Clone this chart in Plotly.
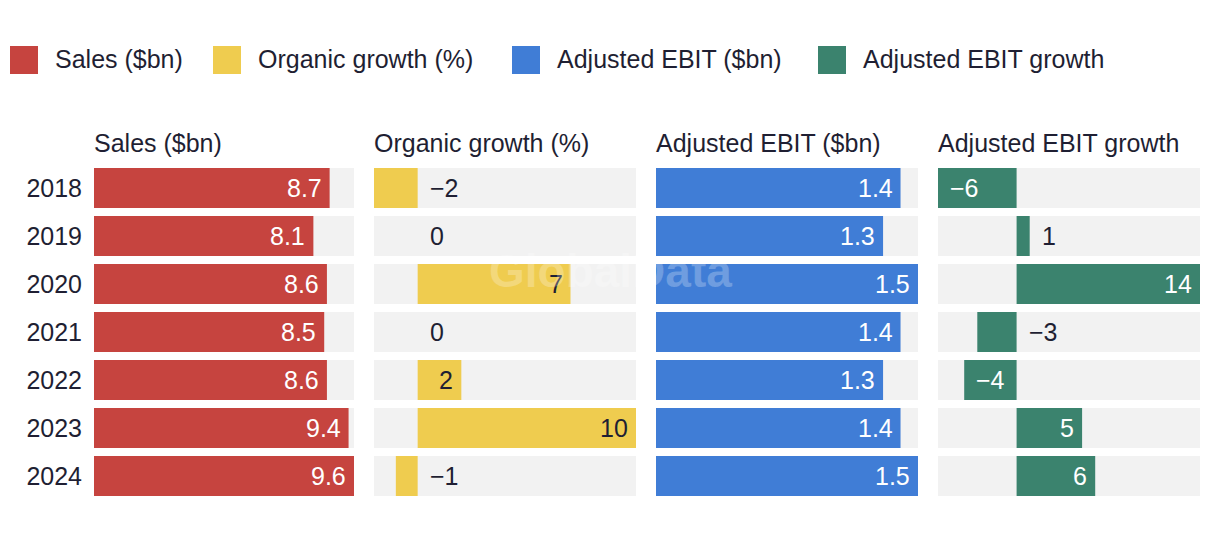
import plotly.graph_objects as go

years = ["2018", "2019", "2020", "2021", "2022", "2023", "2024"]
series_names = ["Sales ($bn)", "Organic growth (%)", "Adjusted EBIT ($bn)", "Adjusted EBIT growth"]
sales = [8.7, 8.1, 8.6, 8.5, 8.6, 9.4, 9.6]
organic_growth = [-2, 0, 7, 0, 2, 10, -1]
adj_ebit = [1.4, 1.3, 1.5, 1.4, 1.3, 1.4, 1.5]
adj_ebit_growth = [-6, 1, 14, -3, -4, 5, 6]
label_formats = [".1f", ".0f", ".1f", ".0f"]

colors = ["#c6443f", "#efcc4f", "#407dd6", "#3b836e"]
inside_text_colors = ["#ffffff", "#1f1f33", "#ffffff", "#ffffff"]
dark = "#1f1f33"
bg = "#f2f2f2"
FONT = "Liberation Sans, Arial, sans-serif"
FS = 25

W, H = 1220, 540
OFF = 8  # page body margin
panels_px = [(94, 354), (374, 636), (656, 918), (938, 1200)]
panels_px = [(a - OFF, b - OFF) for a, b in panels_px]
y_top_px, y_bot_px = 164 - OFF, 500 - OFF

all_series = [sales, organic_growth, adj_ebit, adj_ebit_growth]
fig = go.Figure()
annotations = []
shapes = []
idx = list(range(len(years)))
bar_w = 40 / 48

for i, (name, vals) in enumerate(zip(series_names, all_series)):
    xa = "x" if i == 0 else f"x{i+1}"
    lo, hi = min(0, min(vals)), max(vals)
    fig.add_trace(go.Bar(y=idx, x=[hi - lo] * len(vals), base=[lo] * len(vals), orientation="h",
                         marker=dict(color=bg, line=dict(width=0)), width=bar_w,
                         xaxis=xa, yaxis="y", showlegend=False, hoverinfo="skip"))
    fig.add_trace(go.Bar(y=idx, x=vals, orientation="h", name=name,
                         marker=dict(color=colors[i], line=dict(width=0)), width=bar_w,
                         xaxis=xa, yaxis="y", showlegend=False))
    px_per_unit = (panels_px[i][1] - panels_px[i][0]) / (hi - lo)
    for j, v in enumerate(vals):
        txt = format(abs(v), label_formats[i])
        if v < 0:
            txt = "\u2212" + txt
        need = 13.5 * len(txt) + 20
        bar_px = abs(v) * px_per_unit
        if bar_px >= need and v != 0:
            if v > 0:
                annotations.append(dict(x=v, y=j, xref=xa, yref="y", text=txt, showarrow=False,
                                        xanchor="right", xshift=-6,
                                        font=dict(family=FONT, size=FS, color=inside_text_colors[i])))
            else:
                annotations.append(dict(x=v, y=j, xref=xa, yref="y", text=txt, showarrow=False,
                                        xanchor="left", xshift=10,
                                        font=dict(family=FONT, size=FS, color=inside_text_colors[i])))
        else:
            annotations.append(dict(x=max(0, v), y=j, xref=xa, yref="y", text=txt, showarrow=False,
                                    xanchor="left", xshift=10,
                                    font=dict(family=FONT, size=FS, color=dark)))
    annotations.append(dict(x=(panels_px[i][0] - 2) / W, y=1 - (143 - OFF) / H, xref="paper", yref="paper",
                            text=name, showarrow=False, xanchor="left", yanchor="middle",
                            font=dict(family=FONT, size=FS, color=dark)))

# legend (manual)
legend_sq = [10, 213, 512, 818]
for i, name in enumerate(series_names):
    x0 = legend_sq[i] - OFF
    shapes.append(dict(type="rect", xref="paper", yref="paper",
                       x0=x0 / W, x1=(x0 + 28) / W, y0=1 - (74 - OFF) / H, y1=1 - (46 - OFF) / H,
                       fillcolor=colors[i], line=dict(width=0)))
    annotations.append(dict(x=(x0 + 43) / W, y=1 - (59 - OFF) / H, xref="paper", yref="paper",
                            text=name, showarrow=False, xanchor="left", yanchor="middle",
                            font=dict(family=FONT, size=FS, color=dark)))

# watermark
annotations.append(dict(x=(610 - OFF) / W, y=1 - (271 - OFF) / H, xref="paper", yref="paper",
                        text="<b>GlobalData</b>", showarrow=False, xanchor="center", yanchor="middle",
                        font=dict(family=FONT, size=46, color="rgba(255,255,255,0.25)")))

layout = dict(
    width=W, height=H, margin=dict(l=0, r=0, t=0, b=0),
    paper_bgcolor="white", plot_bgcolor="white",
    barmode="overlay", showlegend=False,
    annotations=annotations, shapes=shapes,
    yaxis=dict(domain=[1 - y_bot_px / H, 1 - y_top_px / H], range=[len(years) - 0.5, -0.5],
               tickvals=idx, ticktext=years, ticks="outside", ticklen=6, tickcolor="rgba(0,0,0,0)",
               showgrid=False, zeroline=False, showline=False,
               tickfont=dict(family=FONT, size=FS, color=dark), anchor="x"),
)
for i, vals in enumerate(all_series):
    key = "xaxis" if i == 0 else f"xaxis{i+1}"
    lo, hi = min(0, min(vals)), max(vals)
    layout[key] = dict(domain=[panels_px[i][0] / W, panels_px[i][1] / W], range=[lo, hi],
                       showgrid=False, zeroline=False, showline=False, showticklabels=False,
                       fixedrange=True, anchor="y")
fig.update_layout(**layout)
fig.write_html("out.html")
